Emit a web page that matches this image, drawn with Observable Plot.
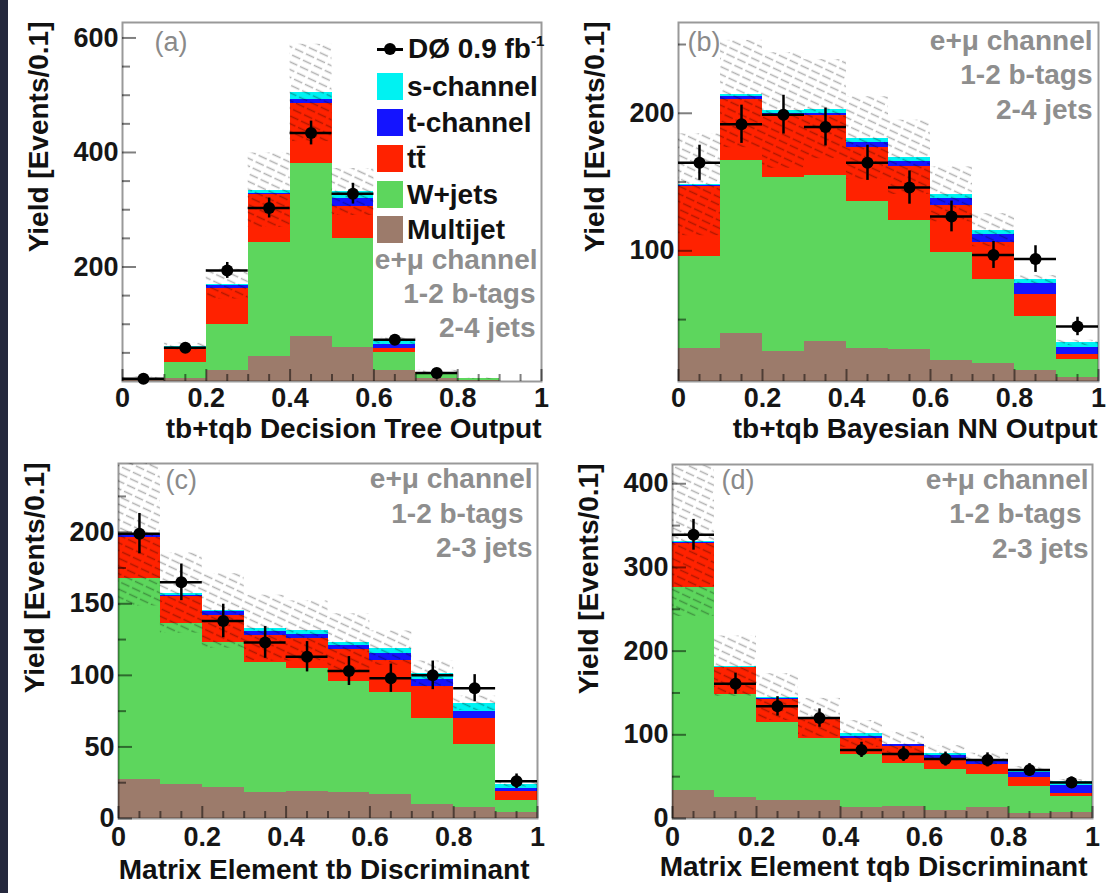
<!DOCTYPE html>
<html>
<head>
<meta charset="utf-8">
<script src="https://cdn.jsdelivr.net/npm/d3@7"></script>
<script src="https://cdn.jsdelivr.net/npm/@observablehq/plot@0.6"></script>
<style>
  html, body { margin: 0; padding: 0; background: #fff; }
  #root { position: relative; width: 1106px; height: 893px; background: #fff; overflow: hidden;
          font-family: "Liberation Sans", Arial, sans-serif; }
  #strip { position: absolute; left: 0; top: 0; width: 8px; height: 893px; background: #25283d; }
  .panel { position: absolute; }
  .panel svg { overflow: visible; }
  .lg { position: absolute; font-size: 28px; font-weight: bold; color: #111; line-height: 27px; white-space: nowrap; }
  .sw { position: absolute; width: 26px; height: 27px; }
</style>
</head>
<body>
<div id="root"><div id="strip"></div></div>
<script>
// ---------- shared categories / ticks ----------
const binEdges = [0, 0.1, 0.2, 0.3, 0.4, 0.5, 0.6, 0.7, 0.8, 0.9, 1.0];
const xMajorTicks = [0, 0.2, 0.4, 0.6, 0.8, 1];
const xTickLabels = ["0", "0.2", "0.4", "0.6", "0.8", "1"];
const xMinorTicks = [0.05, 0.1, 0.15, 0.25, 0.3, 0.35, 0.45, 0.5, 0.55, 0.65, 0.7, 0.75, 0.85, 0.9, 0.95];
// stacking order bottom -> top
const componentNames = ["Multijet", "W+jets", "tt\u0304", "t-channel", "s-channel"];
const componentColors = ["#9c7b6b", "#5dd65d", "#ff2200", "#1414ff", "#00f2f2"];

// ---------- panel (a): Decision Tree ----------
const aMultijet = [1, 5, 19, 44, 79, 59, 19, 5, 1, 0];
const aWjets    = [4, 29, 81, 198, 302, 190, 32, 9, 4, 0];
const aTtbar    = [0.5, 24, 62, 85, 105, 56, 6, 1, 0, 0];
const aTchan    = [0.3, 2, 6, 2, 7, 15, 8, 1, 0, 0];
const aSchan    = [0.2, 1, 2, 5, 11, 11, 6, 0.5, 0, 0];
const aBand     = [2, 6, 26, 65, 85, 41, 6, 3, 1, 0];
const aData     = [5, 59, 194, 303, 434, 328, 73, 15, null, null];
const aErr      = [2.2, 7.7, 13.9, 17.4, 20.8, 18.1, 8.5, 3.9, null, null];
const aYLabels  = [200, 400, 600];
const aYMinor   = [50, 100, 150, 250, 300, 350, 450, 500, 550];

// ---------- panel (b): Bayesian NN ----------
const bMultijet = [29, 40, 27, 34, 29, 28, 20, 18, 13, 8];
const bWjets    = [67, 126, 126.5, 121, 107, 94, 79, 61, 39.5, 13];
const bTtbar    = [51, 44, 45, 43.5, 39, 39, 34, 27, 15.5, 3.5];
const bTchan    = [0.5, 2, 1.5, 1.5, 4, 4, 5, 6, 8, 5.5];
const bSchan    = [0.5, 2, 2, 3, 3, 3, 3, 3, 3, 3];
const bBand     = [37, 39, 42, 36, 30, 27, 20, 12, 3, 2];
const bData     = [164, 192, 199, 190, 164, 146, 125, 97, 94, 45];
const bErr      = [12.8, 13.9, 14.1, 13.8, 12.8, 12.1, 11.2, 9.8, 9.7, 6.7];
const bYLabels  = [100, 200];
const bYMinor   = [50, 150, 250];

// ---------- panel (c): Matrix Element tb ----------
const cMultijet = [27, 24, 22, 18, 19, 18, 17, 10, 8, 4.5];
const cWjets    = [141, 112, 101, 91, 86, 78, 71, 60, 44, 8];
const cTtbar    = [28, 19, 19, 19, 21, 22, 22.5, 22, 18, 6.5];
const cTchan    = [2, 1, 2.5, 2.5, 2.5, 3, 5, 5, 5, 2];
const cSchan    = [0.5, 1.5, 0.5, 2.5, 2.5, 2, 3.5, 4, 5.5, 3];
const cBand     = [50, 28, 26, 23, 21, 20, 12, 9, 5, 2];
const cData     = [199, 165, 138, 123, 113, 103, 98, 100, 91, 26];
const cErr      = [14.1, 12.8, 11.7, 11.1, 10.6, 10.1, 9.9, 10, 9.5, 5.1];
const cYLabels  = [0, 50, 100, 150, 200];
const cYMinor   = [25, 75, 125, 175, 225];

// ---------- panel (d): Matrix Element tqb ----------
const dMultijet = [34, 25, 21.5, 21.5, 13.5, 14, 9.5, 13.5, 6.5, 7.5];
const dWjets    = [242, 123, 93.5, 73.5, 63, 52, 49.5, 39.5, 31.5, 18.5];
const dTtbar    = [53, 32, 27, 23, 18.5, 20, 12, 12, 11, 4];
const dTchan    = [1, 0.5, 1, 2, 3, 2, 4, 5, 6, 10];
const dSchan    = [1.5, 1.5, 2, 0.5, 3, 1, 3, 1, 4, 4.5];
const dBand     = [90, 36, 28, 23, 16, 14, 9, 7, 3, 2];
const dData     = [339, 161, 134, 120, 82, 77, 71, 70, 58, 43];
const dErr      = [18.4, 12.7, 11.6, 11, 9.1, 8.8, 8.4, 8.4, 7.6, 6.6];
const dYLabels  = [0, 100, 200, 300, 400];
const dYMinor   = [50, 150, 250, 350];

const yTitle = "Yield [Events/0.1]";

const panels = [
  {id: "a", left: 0, top: 0, width: 553, height: 445, mt: 22, mr: 12, mb: 64, ml: 122,
   yDomain: [0, 627], yLabels: aYLabels, yMinor: aYMinor,
   comps: [aMultijet, aWjets, aTtbar, aTchan, aSchan], band: aBand, data: aData, err: aErr,
   xTitle: "tb+tqb Decision Tree Output", xTitleDx: 0, xTitleDy: 48, xPad: 6,
   tag: "(a)", tagDx: 32, tagDy: 20,
   info: ["e+\u03bc channel", "1-2 b-tags", "2-4 jets"], infoDx: [-4, -6, -6], infoDy: [238, 272, 306]},
  {id: "b", left: 553, top: 0, width: 553, height: 445, mt: 22, mr: 8, mb: 64, ml: 125,
   yDomain: [5, 266], yLabels: bYLabels, yMinor: bYMinor,
   comps: [bMultijet, bWjets, bTtbar, bTchan, bSchan], band: bBand, data: bData, err: bErr,
   xTitle: "tb+tqb Bayesian NN Output", xTitleDx: -1, xTitleDy: 48, xPad: 6,
   tag: "(b)", tagDx: 9, tagDy: 20,
   info: ["e+\u03bc channel", "1-2 b-tags", "2-4 jets"], infoDx: [-6, -6, -6], infoDy: [19, 53, 88]},
  {id: "c", left: 0, top: 445, width: 553, height: 448, mt: 18, mr: 16, mb: 75, ml: 118,
   yDomain: [0, 248], yLabels: cYLabels, yMinor: cYMinor,
   comps: [cMultijet, cWjets, cTtbar, cTchan, cSchan], band: cBand, data: cData, err: cErr,
   xTitle: "Matrix Element tb Discriminant", xTitleDx: -8, xTitleDy: 52, xPad: 8,
   tag: "(c)", tagDx: 47, tagDy: 17,
   info: ["e+\u03bc channel", "1-2 b-tags", "2-3 jets"], infoDx: [-5, -14, -5], infoDy: [16, 51, 85]},
  {id: "d", left: 553, top: 445, width: 553, height: 448, mt: 19, mr: 14, mb: 75, ml: 119,
   yDomain: [0, 423], yLabels: dYLabels, yMinor: dYMinor,
   comps: [dMultijet, dWjets, dTtbar, dTchan, dSchan], band: dBand, data: dData, err: dErr,
   xTitle: "Matrix Element tqb Discriminant", xTitleDx: -5, xTitleDy: 49, xPad: 8,
   tag: "(d)", tagDx: 49, tagDy: 16,
   info: ["e+\u03bc channel", "1-2 b-tags", "2-3 jets"], infoDx: [-4, -11, -4], infoDy: [16, 50, 85]}
];

const HATCH_KEY = "#010203";
const tickStyle = {stroke: "#000", strokeOpacity: 0.5, strokeWidth: 2};
const FONT = '"Liberation Sans", Arial, Helvetica, sans-serif';
const root = document.getElementById("root");

function buildPanel(p) {
  const fw = p.width - p.ml - p.mr, fh = p.height - p.mt - p.mb;
  const stackRows = [], bandRows = [], points = [];
  for (let i = 0; i < binEdges.length - 1; i++) {
    const lo = binEdges[i], hi = binEdges[i + 1];
    let cum = 0;
    p.comps.forEach((vals, k) => {
      const v = vals[i];
      if (v > 0) stackRows.push({x1: lo, x2: hi, y1: cum, y2: cum + v, fill: componentColors[k], name: componentNames[k]});
      cum += v;
    });
    if (p.band[i] > 0) bandRows.push({x1: lo, x2: hi, y1: cum - p.band[i], y2: cum + p.band[i]});
    if (p.data[i] != null) points.push({lo, hi, x: (lo + hi) / 2, y: p.data[i], ylo: p.data[i] - p.err[i], yhi: p.data[i] + p.err[i]});
  }

  const marks = [
    Plot.rect(stackRows, {x1: "x1", x2: "x2", y1: "y1", y2: "y2", fill: "fill", shapeRendering: "crispEdges"}),
    Plot.rect(bandRows, {x1: "x1", x2: "x2", y1: "y1", y2: "y2", fill: HATCH_KEY}),
    Plot.tickY(p.yLabels, {y: d => d, insetRight: fw - 14, ...tickStyle}),
    Plot.tickY(p.yMinor, {y: d => d, insetRight: fw - 8, ...tickStyle}),
    Plot.tickX(xMajorTicks, {x: d => d, insetTop: fh - 12, ...tickStyle}),
    Plot.tickX(xMinorTicks, {x: d => d, insetTop: fh - 7, ...tickStyle}),
    Plot.ruleY(points, {y: "y", x1: "lo", x2: "hi", stroke: "#000", strokeWidth: 2.5}),
    Plot.ruleX(points, {x: "x", y1: "ylo", y2: "yhi", stroke: "#000", strokeWidth: 2.5}),
    Plot.dot(points, {x: "x", y: "y", r: 6, fill: "#000"}),
    Plot.frame({stroke: "#000", strokeOpacity: 0.4, strokeWidth: 2}),
    Plot.text([yTitle], {frameAnchor: "top-left", rotate: -90, textAnchor: "end", lineAnchor: "middle",
      dx: -83, dy: -1, fontSize: 28, fontWeight: "bold", fill: "#111"}),
    Plot.text([p.xTitle], {frameAnchor: "bottom-right", textAnchor: "end", lineAnchor: "middle",
      dx: p.xTitleDx, dy: p.xTitleDy, fontSize: 28, fontWeight: "bold", fill: "#111"}),
    Plot.text([p.tag], {frameAnchor: "top-left", textAnchor: "start", lineAnchor: "middle",
      dx: p.tagDx, dy: p.tagDy, fontSize: 27, fontWeight: "normal", fill: "#8a8a8a"})
  ];
  p.info.forEach((t, i) => {
    marks.push(Plot.text([t], {frameAnchor: "top-right", textAnchor: "end", lineAnchor: "middle",
      dx: p.infoDx[i], dy: p.infoDy[i], fontSize: 28, fontWeight: "bold", fill: "#8e8e8e"}));
  });

  const svg = Plot.plot({
    width: p.width, height: p.height,
    marginTop: p.mt, marginRight: p.mr, marginBottom: p.mb, marginLeft: p.ml,
    style: {fontFamily: FONT, fontSize: "27px", fontWeight: "bold", color: "#161616",
            background: "transparent", overflow: "visible"},
    x: {domain: [0, 1], ticks: xMajorTicks, tickSize: 0, tickPadding: p.xPad, label: null,
        tickFormat: (d) => xTickLabels[xMajorTicks.indexOf(d)]},
    y: {domain: p.yDomain, ticks: p.yLabels, tickSize: 0, tickPadding: 4, label: null, clamp: true},
    color: {type: "identity"},
    marks
  });

  // hatch pattern for the uncertainty band
  const sel = d3.select(svg);
  const defs = sel.insert("defs", ":first-child");
  const pat = defs.append("pattern")
    .attr("id", "hatch-" + p.id)
    .attr("patternUnits", "userSpaceOnUse")
    .attr("width", 12).attr("height", 7)
    .attr("patternTransform", "rotate(25)");
  pat.append("line")
    .attr("x1", 0).attr("y1", 3.5).attr("x2", 12).attr("y2", 3.5)
    .attr("stroke", "#000").attr("stroke-opacity", 0.3).attr("stroke-width", 1.5)
    .attr("stroke-dasharray", "9,3");
  sel.selectAll(`[fill="${HATCH_KEY}"]`).attr("fill", `url(#hatch-${p.id})`);

  const div = document.createElement("div");
  div.className = "panel";
  div.style.left = p.left + "px";
  div.style.top = p.top + "px";
  div.style.width = p.width + "px";
  div.style.height = p.height + "px";
  div.appendChild(svg);
  root.appendChild(div);
}

panels.forEach(buildPanel);

// ---------- legend of panel (a) ----------
const legendLabels = ["s-channel", "t-channel", "tt\u0304", "W+jets", "Multijet"];
const legendColors = ["#00f2f2", "#1414ff", "#ff2200", "#5dd65d", "#9c7b6b"];
const legendRowTops = [73, 109, 145, 181, 216];

function addEl(cls, css, html) {
  const el = document.createElement("div");
  el.className = cls;
  Object.assign(el.style, css);
  if (html != null) el.innerHTML = html;
  root.appendChild(el);
  return el;
}
// data entry
addEl("", {position: "absolute", left: "377px", top: "48px", width: "26px", height: "2.5px", background: "#000"});
addEl("", {position: "absolute", left: "384px", top: "43px", width: "12px", height: "12px", borderRadius: "50%", background: "#000"});
addEl("lg", {left: "408px", top: "35px"}, 'D\u00d8 0.9 fb<span style="font-size:15px;position:relative;top:-12px;">-1</span>');
legendLabels.forEach((lab, i) => {
  addEl("sw", {left: "377px", top: legendRowTops[i] + "px", background: legendColors[i]});
  addEl("lg", {left: "407px", top: legendRowTops[i] + "px"}, lab);
});
</script>
</body>
</html>
